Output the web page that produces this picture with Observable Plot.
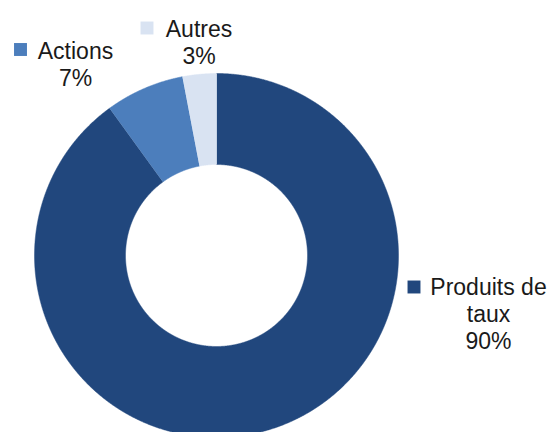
<!DOCTYPE html>
<html>
<head>
<meta charset="utf-8">
<script src="https://cdn.jsdelivr.net/npm/d3@7"></script>
<script src="https://cdn.jsdelivr.net/npm/@observablehq/plot@0.6"></script>
<style>
  html, body { margin: 0; padding: 0; background: #fff; overflow: hidden; width: 550px; height: 432px; }
  #chart svg { display: block; }
</style>
</head>
<body>
<div id="chart"></div>
<script>
// ---- data ----
const categories = ["Produits de taux", "Actions", "Autres"];
const values = [90, 7, 3];
const labelTexts = ["Produits de\ntaux\n90%", "Actions\n7%", "Autres\n3%"];
const colors = ["#21477D", "#4C7EBC", "#D9E3F2"];

// ---- layout (pixels) ----
const W = 550, H = 437;
const cx = 216, cy = 255, R = 182, innerRatio = 0.5;
const toX = px => (px - cx) / R;
const toY = py => (cy - py) / R;
// label block: text centre x, cap-top y, marker centre
const labelLayout = [
  {tx: 488, ty: 275, mx: 413.5, my: 286.5},
  {tx: 75, ty: 39, mx: 20, my: 49},
  {tx: 198.5, ty: 17.5, mx: 146.5, my: 27.5}
];

const arcs = d3.pie().sort(null).value(d => d)(values);
const step = 0.004;
function ring(a0, a1) {
  const pts = [];
  const n = Math.max(2, Math.ceil((a1 - a0) / step));
  for (let i = 0; i <= n; i++) {
    const a = a0 + (a1 - a0) * i / n;
    pts.push({x: Math.sin(a), y: Math.cos(a)});
  }
  for (let i = n; i >= 0; i--) {
    const a = a0 + (a1 - a0) * i / n;
    pts.push({x: innerRatio * Math.sin(a), y: innerRatio * Math.cos(a)});
  }
  return pts;
}

const sliceMarks = arcs.map((a, i) =>
  Plot.line(ring(a.startAngle, a.endAngle), {x: "x", y: "y", fill: colors[i], stroke: colors[i], strokeWidth: 0.5, curve: "linear"})
);

const labels = categories.map((c, i) => ({
  name: c,
  text: labelTexts[i],
  color: colors[i],
  x: toX(labelLayout[i].tx),
  y: toY(labelLayout[i].ty),
  mx: toX(labelLayout[i].mx),
  my: toY(labelLayout[i].my)
}));

const chart = Plot.plot({
  width: W,
  height: H,
  marginLeft: cx - R,
  marginRight: W - (cx + R),
  marginTop: cy - R,
  marginBottom: H - (cy + R),
  x: {domain: [-1, 1], axis: null},
  y: {domain: [-1, 1], axis: null},
  style: {background: "#fff", overflow: "visible", fontFamily: "'Liberation Sans', Arial, sans-serif"},
  marks: [
    ...sliceMarks,
    Plot.dot(labels, {x: "mx", y: "my", symbol: "square", r: 7.3, fill: "color", stroke: null}),
    Plot.text(labels, {x: "x", y: "y", text: "text", fontSize: 23, lineAnchor: "top", lineHeight: 1.18, fill: "#1a1a1a", textAnchor: "middle"})
  ]
});
// colors are literal hex values
document.getElementById("chart").appendChild(chart);
</script>
</body>
</html>
